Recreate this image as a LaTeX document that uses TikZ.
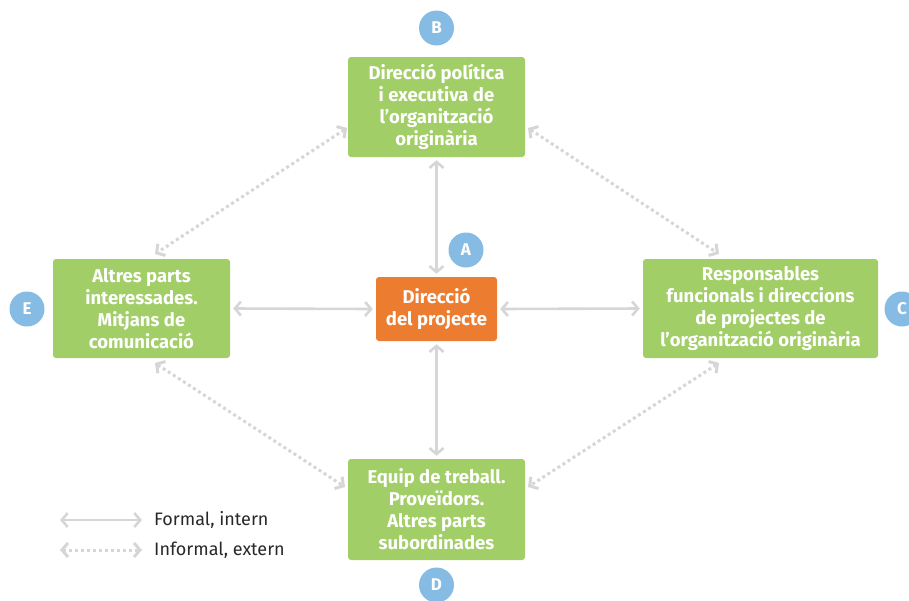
\documentclass[tikz,border=0pt]{standalone}
\usepackage{fontspec}
\setmainfont{Fira Sans}
\usetikzlibrary{arrows.meta, positioning}
\definecolor{boxgreen}{RGB}{161, 206, 103}
\definecolor{boxorange}{RGB}{236, 124, 48}
\definecolor{tagblue}{RGB}{134, 188, 228}
\definecolor{linkgray}{RGB}{214, 214, 214}
\definecolor{legendtext}{RGB}{40, 40, 40}

\tikzset{
  actor/.style={fill=boxgreen, rounded corners=3pt, text=white, align=center,
    font=\bfseries\fontsize{18.5}{22}\selectfont, inner sep=0pt},
  core/.style={actor, fill=boxorange},
  tag/.style={circle, fill=tagblue, text=white, minimum size=35pt, inner sep=0pt,
    font=\bfseries\fontsize{17}{20}\selectfont},
  formal/.style={draw=linkgray, line width=2.6pt,
    {Straight Barb[length=6pt, width=14pt]}-{Straight Barb[length=6pt, width=14pt]}},
  informal/.style={formal, line width=3pt, dash pattern=on 3pt off 3pt}
}

\begin{document}
\begin{tikzpicture}[x=1pt, y=-1pt]
  \useasboundingbox (0,0) rectangle (909,600);

  % central node and the four groups round it
  \node[core, minimum width=121pt, minimum height=64pt] (proj) at (436.5,309) {Direcció\\del projecte};
  \node[actor, minimum width=177pt, minimum height=100pt] (pol) at (436.5,107) {Direcció política\\i executiva de\\l’organització\\originària};
  \node[actor, minimum width=235pt, minimum height=99pt] (func) at (760.5,308.5) {Responsables\\funcionals i direccions\\de projectes de\\l’organització originària};
  \node[actor, minimum width=177pt, minimum height=101pt] (team) at (436.5,509.5) {Equip de treball.\\Proveïdors.\\Altres parts\\subordinades};
  \node[actor, minimum width=177pt, minimum height=99pt] (other) at (141.5,308.5) {Altres parts\\interessades.\\Mitjans de\\comunicació};

  % letters
  \node[tag] (tagA) at (466,250) {A};
  \node[tag] (tagB) at (436.5,28) {B};
  \node[tag] (tagC) at (902,309) {C};
  \node[tag] (tagD) at (436.5,585) {D};
  \node[tag] (tagE) at (27,309) {E};

  % formal links
  \draw[formal] ([yshift=-3pt]pol.south) -- ([yshift=3pt]proj.north);
  \draw[formal] ([yshift=3pt]team.north) -- ([yshift=-3pt]proj.south);
  \draw[formal] ([xshift=3pt]other.east) -- ([xshift=-3pt]proj.west);
  \draw[formal] ([xshift=-3pt]func.west) -- ([xshift=3pt]proj.east);

  % informal links
  \coordinate (polL) at (347,128);
  \coordinate (polR) at (528,128);
  \coordinate (teamL) at (345,487);
  \coordinate (teamR) at (528,487);
  \coordinate (otherT) at (155,254);
  \coordinate (otherB) at (155,363);
  \coordinate (funcT) at (719,254);
  \coordinate (funcB) at (719,363);
  \draw[informal] (polL) -- (otherT);
  \draw[informal] (polR) -- (funcT);
  \draw[informal] (otherB) -- (teamL);
  \draw[informal] (funcB) -- (teamR);

  % legend
  \coordinate (keyA1) at (60,520);
  \coordinate (keyA2) at (142,520);
  \coordinate (keyB1) at (60,550);
  \coordinate (keyB2) at (142,550);
  \draw[formal] (keyA1) -- (keyA2);
  \draw[informal] (keyB1) -- (keyB2);
  \node[anchor=west, text=legendtext, font=\fontsize{18}{20}\selectfont, inner sep=0pt] (keyA) at (154,520) {Formal, intern};
  \node[anchor=west, text=legendtext, font=\fontsize{18}{20}\selectfont, inner sep=0pt] (keyB) at (154,550) {Informal, extern};
\end{tikzpicture}
\end{document}
